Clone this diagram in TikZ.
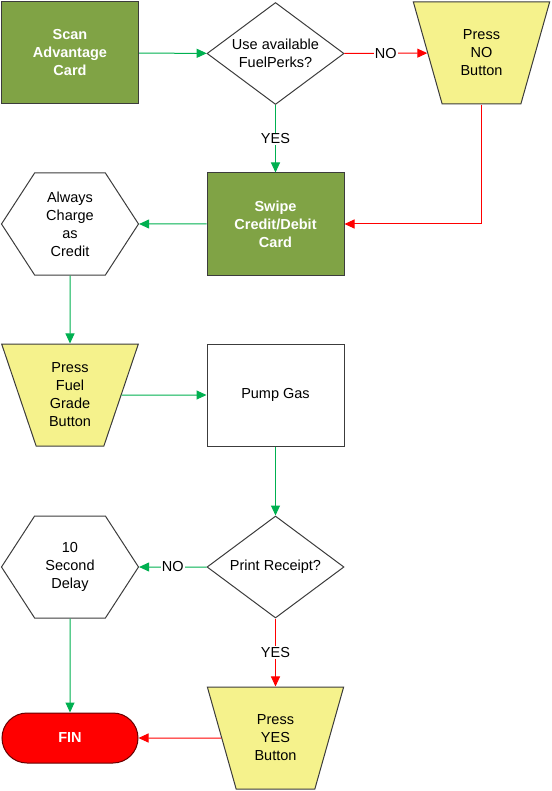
\documentclass[tikz,border=0pt]{standalone}
\usepackage{fontspec}
\setmainfont{Liberation Sans}
\usetikzlibrary{shapes.geometric,shapes.symbols,arrows.meta}
\definecolor{boxgreen}{RGB}{128,163,69}
\definecolor{btnyellow}{RGB}{245,242,140}
\definecolor{linegreen}{RGB}{0,176,80}
\definecolor{linered}{RGB}{255,0,0}
\definecolor{finred}{RGB}{255,0,0}
\definecolor{edgegray}{RGB}{60,60,60}
\tikzset{
  stepbox/.style={draw=edgegray, line width=1pt, rectangle, minimum width=137pt, minimum height=102pt, align=center, inner sep=0pt},
  greenbox/.style={stepbox, fill=boxgreen, text=white, font=\fontsize{14.5}{18}\selectfont\bfseries},
  plainbox/.style={stepbox, fill=white},
  question/.style={draw=edgegray, line width=1pt, diamond, aspect=1.34, minimum width=137pt, minimum height=102pt, align=center, inner sep=0pt},
  button/.style={draw=edgegray, line width=1pt, fill=btnyellow, trapezium, trapezium left angle=71.6, trapezium right angle=71.6, shape border rotate=180, trapezium stretches=true, minimum width=137pt, minimum height=102pt, align=center, inner sep=0pt},
  waitbox/.style={draw=edgegray, line width=1pt, signal, signal to=west and east, signal pointer angle=114, minimum width=137pt, minimum height=102pt, align=center, inner sep=0pt},
  finbox/.style={draw=black!60!red, line width=1pt, fill=finred, rounded corners=25pt, minimum width=136pt, minimum height=50pt, text=white, font=\fontsize{14.5}{18}\selectfont\bfseries},
  goline/.style={draw=linegreen, line width=1pt, -{Triangle[length=10pt,width=9pt]}},
  stopline/.style={draw=linered, line width=1pt, -{Triangle[length=10pt,width=9pt]}},
  answer/.style={fill=white, inner sep=1pt, font=\fontsize{14.5}{16}\selectfont}
}
\begin{document}
\begin{tikzpicture}[x=1pt, y=-1pt, font=\fontsize{14.5}{18}\selectfont]
  \useasboundingbox (0,0) rectangle (551,791);
  \node[greenbox] (scan) at (70,53) {Scan\\Advantage\\Card};
  \node[question] (perks) at (275.5,53.5) {Use available\\FuelPerks?};
  \node[button] (nobtn) at (481.5,53) {Press\\NO\\Button};
  \node[greenbox] (swipe) at (275.5,224) {Swipe\\Credit/Debit\\Card};
  \node[waitbox] (credit) at (70,224) {Always\\Charge\\as\\Credit};
  \node[button] (grade) at (70,395) {Press\\Fuel\\Grade\\Button};
  \node[plainbox] (pump) at (275.5,395) {Pump Gas};
  \node[question] (receipt) at (275.5,567) {Print Receipt?};
  \node[waitbox] (delay) at (70,567) {10\\Second\\Delay};
  \node[button] (yesbtn) at (275.5,738) {Press\\YES\\Button};
  \node[finbox] (fin) at (70,738) {FIN};
  \draw[goline] (scan) -- (perks);
  \draw[stopline] (perks) -- node[answer] {NO} (nobtn);
  \draw[goline] (perks) -- node[answer] {YES} (swipe);
  \draw[stopline] (nobtn.south) |- (swipe.east);
  \draw[goline] (swipe) -- (credit);
  \draw[goline] (credit) -- (grade);
  \draw[goline] (grade.east) -- (pump.west);
  \draw[goline] (pump) -- (receipt);
  \draw[goline] (receipt) -- node[answer] {NO} (delay);
  \draw[stopline] (receipt) -- node[answer] {YES} (yesbtn);
  \draw[goline] (delay) -- (fin);
  \draw[stopline] (yesbtn.west) -- (fin.east);
\end{tikzpicture}
\end{document}
